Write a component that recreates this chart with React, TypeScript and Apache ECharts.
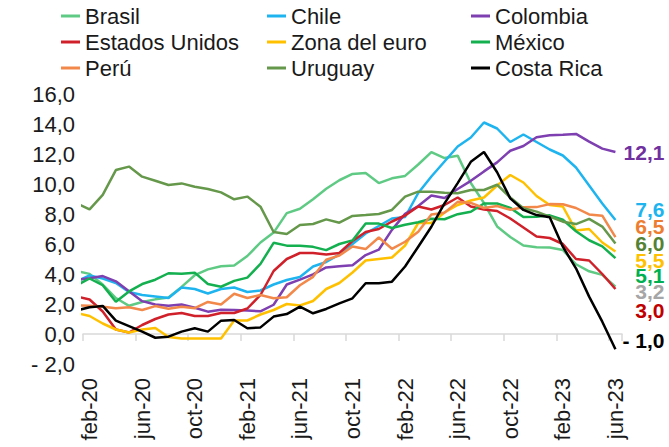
import React, { useEffect, useRef } from 'react';
import * as echarts from 'echarts';

// Months (the first one, ene-20, lies half a slot left of the plot and is clipped)
const months = [
  'ene-20', 'feb-20', 'mar-20', 'abr-20', 'may-20', 'jun-20', 'jul-20', 'ago-20', 'sep-20', 'oct-20', 'nov-20', 'dic-20',
  'ene-21', 'feb-21', 'mar-21', 'abr-21', 'may-21', 'jun-21', 'jul-21', 'ago-21', 'sep-21', 'oct-21', 'nov-21', 'dic-21',
  'ene-22', 'feb-22', 'mar-22', 'abr-22', 'may-22', 'jun-22', 'jul-22', 'ago-22', 'sep-22', 'oct-22', 'nov-22', 'dic-22',
  'ene-23', 'feb-23', 'mar-23', 'abr-23', 'may-23', 'jun-23',
];

const brasil = [4.19, 4.01, 3.30, 2.40, 1.88, 2.13, 2.31, 2.44, 3.14, 3.92, 4.31, 4.52,
  4.56, 5.20, 6.10, 6.76, 8.06, 8.35, 8.99, 9.68, 10.25, 10.67, 10.74, 10.06,
  10.38, 10.54, 11.30, 12.13, 11.73, 11.89, 10.07, 8.73, 7.17, 6.47, 5.90, 5.79,
  5.77, 5.60, 4.65, 4.18, 3.94, 3.16];
const chile = [3.5, 3.9, 3.7, 3.4, 2.8, 2.6, 2.5, 2.4, 3.1, 3.0, 2.7, 3.0,
  3.1, 2.8, 2.9, 3.3, 3.6, 3.8, 4.5, 4.8, 5.3, 6.0, 6.7, 7.2,
  7.7, 7.8, 9.4, 10.5, 11.5, 12.5, 13.1, 14.1, 13.7, 12.8, 13.3, 12.8,
  12.3, 11.9, 11.1, 9.9, 8.7, 7.6];
const colombia = [3.62, 3.72, 3.86, 3.51, 2.85, 2.19, 1.97, 1.88, 1.97, 1.75, 1.49, 1.61,
  1.60, 1.56, 1.51, 1.95, 3.30, 3.63, 3.97, 4.44, 4.51, 4.58, 5.26, 5.62,
  6.94, 8.01, 8.53, 9.23, 9.07, 9.67, 10.21, 10.84, 11.44, 12.22, 12.53, 13.12,
  13.25, 13.28, 13.34, 12.82, 12.36, 12.13];
const estadosUnidos = [2.5, 2.3, 1.5, 0.3, 0.1, 0.6, 1.0, 1.3, 1.4, 1.2, 1.2, 1.4,
  1.4, 1.7, 2.6, 4.2, 5.0, 5.4, 5.4, 5.3, 5.4, 6.2, 6.8, 7.0,
  7.5, 7.9, 8.5, 8.3, 8.6, 9.1, 8.5, 8.3, 8.2, 7.7, 7.1, 6.5,
  6.4, 6.0, 5.0, 4.9, 4.0, 3.0];
const zonaEuro = [1.4, 1.2, 0.7, 0.3, 0.1, 0.3, 0.4, -0.2, -0.3, -0.3, -0.3, -0.3,
  0.9, 0.9, 1.3, 1.6, 2.0, 1.9, 2.2, 3.0, 3.4, 4.1, 4.9, 5.0,
  5.1, 5.9, 7.4, 7.4, 8.1, 8.6, 8.9, 9.1, 9.9, 10.6, 10.1, 9.2,
  8.6, 8.5, 6.9, 7.0, 6.1, 5.5];
const mexico = [3.24, 3.70, 3.25, 2.15, 2.84, 3.33, 3.62, 4.05, 4.01, 4.09, 3.33, 3.15,
  3.54, 3.76, 4.67, 6.08, 5.89, 5.88, 5.81, 5.59, 6.00, 6.24, 7.37, 7.36,
  7.07, 7.28, 7.45, 7.68, 7.65, 7.99, 8.15, 8.70, 8.70, 8.41, 7.80, 7.82,
  7.91, 7.62, 6.85, 6.25, 5.84, 5.06];
const peru = [1.90, 1.88, 1.82, 1.72, 1.78, 1.60, 1.86, 1.69, 1.82, 1.72, 2.14, 1.97,
  2.68, 2.40, 2.60, 2.38, 2.45, 3.25, 3.81, 4.95, 5.23, 5.83, 5.66, 6.43,
  5.68, 6.15, 6.82, 7.96, 8.09, 8.81, 8.74, 8.40, 8.53, 8.28, 8.45, 8.46,
  8.66, 8.65, 8.40, 7.97, 7.89, 6.46];
const uruguay = [8.71, 8.31, 9.27, 10.93, 11.16, 10.49, 10.22, 9.93, 10.04, 9.82, 9.67, 9.44,
  8.98, 9.16, 8.49, 6.8, 6.67, 7.27, 7.33, 7.64, 7.42, 7.87, 7.93, 8.0,
  8.27, 9.16, 9.49, 9.49, 9.42, 9.38, 9.6, 9.6, 9.95, 9.1, 8.38, 8.16,
  7.82, 7.49, 7.33, 7.67, 7.16, 6.04];
const costaRica = [1.57, 1.78, 1.87, 0.89, 0.53, 0.16, -0.25, -0.18, 0.16, 0.38, 0.16, 0.89,
  0.93, 0.38, 0.44, 1.16, 1.33, 1.82, 1.38, 1.67, 2.04, 2.38, 3.38, 3.38,
  3.49, 4.5, 5.82, 7.15, 8.71, 10.06, 11.48, 12.13, 10.78, 9.04, 8.27, 7.93,
  7.78, 5.82, 4.38, 2.49, 0.82, -1.02];

const legendColumns = [
  ['Brasil', 'Estados Unidos', 'Perú'],
  ['Chile', 'Zona del euro', 'Uruguay'],
  ['Colombia', 'México', 'Costa Rica'],
];

const FONT = '"Liberation Sans", Arial, Helvetica, sans-serif';

const seriesDefs = [
  { name: 'Brasil', data: brasil, color: '#5fca84', labelColor: '#a6a6a6', dy: 5 },
  { name: 'Chile', data: chile, color: '#1eb4ef', labelColor: '#1eb4ef', dy: -11 },
  { name: 'Colombia', data: colombia, color: '#7e3fb0', labelColor: '#7030a0', dy: 0 },
  { name: 'Estados Unidos', data: estadosUnidos, color: '#d0202a', labelColor: '#c00000', dy: 21 },
  { name: 'Zona del euro', data: zonaEuro, color: '#ffc000', labelColor: '#ffc000', dy: 8.5 },
  { name: 'México', data: mexico, color: '#14b050', labelColor: '#00b050', dy: 17 },
  { name: 'Perú', data: peru, color: '#f2884a', labelColor: '#ed7d31', dy: -10.5 },
  { name: 'Uruguay', data: uruguay, color: '#65984a', labelColor: '#548235', dy: 0 },
  { name: 'Costa Rica', data: costaRica, color: '#000000', labelColor: '#000000', dy: -9 },
];

const fmt = (v: number) => {
  const s = Math.abs(v).toFixed(1).replace('.', ',');
  return v < 0 ? '- ' + s : s;
};

// every fourth month starting at feb-20 (index 1)
const everyFourth = (index: number) => index >= 1 && (index - 1) % 4 === 0;

export default function App() {
  const ref = useRef<HTMLDivElement>(null);

  useEffect(() => {
    if (!ref.current) return;
    const chart = echarts.init(ref.current, undefined, { renderer: 'svg' });
    const option: any = {
      animation: false,
      backgroundColor: '#ffffff',
      textStyle: { fontFamily: FONT },
      grid: { left: 83, right: 47, top: 94, bottom: 83 },
      legend: legendColumns.map((names, i) => ({
        data: names,
        orient: 'vertical',
        left: [61, 267, 471][i],
        top: 5,
        padding: 0,
        itemWidth: 19,
        itemHeight: 3,
        itemGap: 4,
        icon: 'rect',
        selectedMode: false,
        textStyle: { fontSize: 22, color: '#1a1a1a', fontFamily: FONT, lineHeight: 22 },
      })),
      xAxis: [
        {
          type: 'category',
          data: months,
          min: 1,
          boundaryGap: true,
          position: 'bottom',
          axisLine: { show: true, onZero: true, lineStyle: { color: '#d9d9d9', width: 1.5 } },
          axisTick: { show: true, interval: everyFourth, length: 7, lineStyle: { color: '#d9d9d9', width: 1.5 } },
          axisLabel: { show: false, interval: everyFourth },
          splitLine: { show: false },
        },
        {
          type: 'category',
          data: months,
          min: 1,
          boundaryGap: true,
          position: 'bottom',
          axisLine: { show: false, onZero: false },
          axisTick: { show: false },
          axisLabel: {
            show: true,
            interval: everyFourth,
            rotate: 90,
            margin: 14,
            fontSize: 22,
            color: '#1a1a1a',
            fontFamily: FONT,
          },
          splitLine: { show: false },
        },
      ],
      yAxis: {
        type: 'value',
        min: -2,
        max: 16,
        interval: 2,
        axisLine: { show: false },
        axisTick: { show: false },
        splitLine: { show: false },
        axisLabel: {
          formatter: (v: number) => fmt(v),
          fontSize: 22,
          color: '#1a1a1a',
          fontFamily: FONT,
          margin: 8,
        },
      },
      series: seriesDefs.map((s) => ({
        name: s.name,
        type: 'line',
        xAxisIndex: 0,
        data: s.data,
        symbol: 'none',
        showSymbol: false,
        clip: true,
        color: s.color,
        lineStyle: { color: s.color, width: 2.5 },
        emphasis: { disabled: true },
        endLabel: {
          show: true,
          distance: 0,
          align: 'right',
          offset: [49, s.dy],
          formatter: (p: any) => fmt(p.value),
          color: s.labelColor,
          fontWeight: 'bold',
          fontSize: 21,
          lineHeight: 15,
          fontFamily: FONT,
        },
      })),
    };
    chart.setOption(option);
    return () => chart.dispose();
  }, []);

  return (
    <div
      ref={ref}
      style={{ position: 'fixed', left: 0, top: 0, width: 669, height: 447, background: '#fff' }}
    />
  );
}
